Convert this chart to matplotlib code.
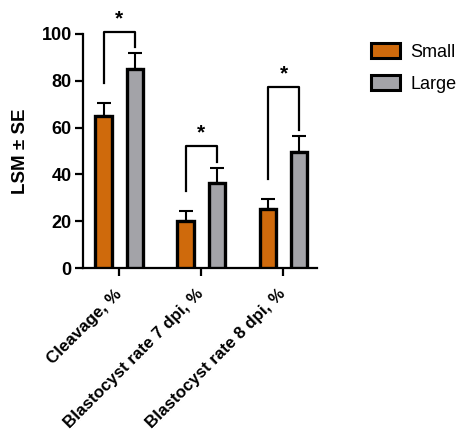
import matplotlib
matplotlib.use("Agg")
import matplotlib.pyplot as plt
import numpy as np
from matplotlib.patches import Patch

categories = ["Cleavage, %", "Blastocyst rate 7 dpi, %", "Blastocyst rate 8 dpi, %"]
small_vals = [65.0, 20.0, 25.3]
small_err = [5.5, 4.6, 4.2]
large_vals = [85.0, 36.5, 49.8]
large_err = [7.0, 6.2, 6.6]
series_names = ["Small", "Large"]
bracket_top = [101, 52, 77.5]
sig_labels = ["*", "*", "*"]

orange = "#CF6A0C"
gray = "#A3A3A8"

plt.rcParams['font.family'] = ['Arial', 'Liberation Sans', 'DejaVu Sans']

fig = plt.figure(figsize=(4.61, 4.34), dpi=100)
ax = fig.add_axes([0.18, 0.382, 0.508, 0.54])

x = np.arange(len(categories))
off = 0.19
w = 0.2
ax.bar(x - off, small_vals, width=w, color=orange, edgecolor="black", linewidth=2.4, zorder=3)
ax.bar(x + off, large_vals, width=w, color=gray, edgecolor="black", linewidth=2.4, zorder=3)
for xs, v, e in zip(x - off, small_vals, small_err):
    ax.errorbar([xs], [v + e / 2], yerr=[[e / 2], [e / 2]], fmt="none", ecolor="black",
                elinewidth=1.5, capsize=5, capthick=1.5, zorder=2)
for xs, v, e in zip(x + off, large_vals, large_err):
    ax.errorbar([xs], [v + e / 2], yerr=[[e / 2], [e / 2]], fmt="none", ecolor="black",
                elinewidth=1.5, capsize=5, capthick=1.5, zorder=2)

for i in range(len(categories)):
    xl, xr = x[i] - off, x[i] + off
    top = bracket_top[i]
    yl = small_vals[i] + small_err[i] + 8.5
    yr = large_vals[i] + large_err[i] + 2.5
    ax.plot([xl, xl, xr, xr], [yl, top, top, yr], color="black", lw=1.6, clip_on=False)
    ax.text((xl + xr) / 2, top + 1.5, sig_labels[i], ha="center", va="bottom",
            fontsize=15, fontweight="bold", clip_on=False)

ax.set_xlim(-0.44, 2.41)
ax.set_ylim(0, 100)
ax.set_yticks([0, 20, 40, 60, 80, 100])
ax.set_xticks(x)
ax.set_xticklabels(categories, rotation=45, ha="right", va="center", rotation_mode="anchor",
                   fontsize=12.2, fontweight="bold")
for lab in ax.get_yticklabels():
    lab.set_fontweight("bold")
    lab.set_fontsize(13)
ax.tick_params(axis="both", width=1.6, length=6, direction="out")
ax.tick_params(axis="x", pad=11)
ax.tick_params(axis="y", pad=2)
for s in ["top", "right"]:
    ax.spines[s].set_visible(False)
for s in ["left", "bottom"]:
    ax.spines[s].set_linewidth(1.6)
ax.set_ylabel("LSM ± SE", fontsize=13.5, fontweight="bold", labelpad=9)

handles = [Patch(facecolor=orange, edgecolor="black", linewidth=2.2),
           Patch(facecolor=gray, edgecolor="black", linewidth=2.2)]
fig.legend(handles, series_names, loc="upper left", bbox_to_anchor=(0.782, 0.926),
           frameon=False, fontsize=13, handlelength=1.6, handleheight=0.9,
           handletextpad=0.55, labelspacing=0.8, borderaxespad=0.2)

fig.savefig("out.png", dpi=100)
